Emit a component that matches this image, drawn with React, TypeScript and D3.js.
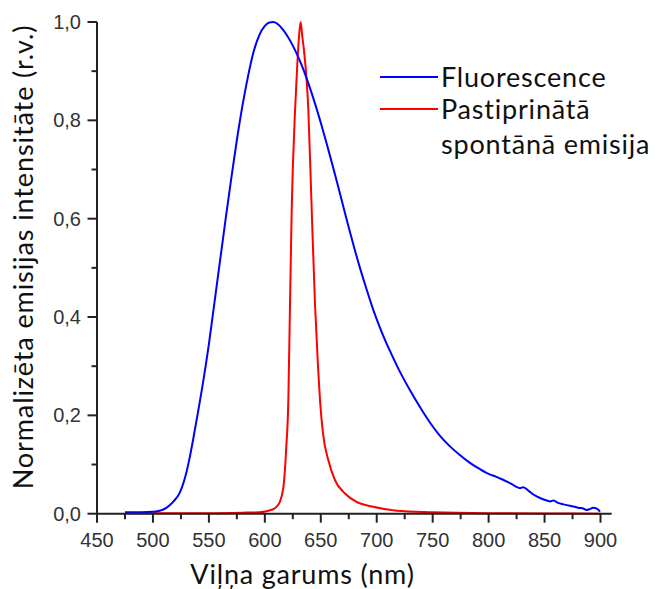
import React from "react";
import * as d3 from "d3";

const fluoWavelength = [475, 490, 500, 506, 512, 518, 524, 530, 533, 536, 540, 545, 550, 555, 560, 565, 570, 575, 580, 585, 590, 595, 600, 604, 607.6, 612, 616, 620, 625, 630, 635, 640, 645, 650, 655, 660, 665, 670, 675, 680, 685, 690, 697, 704, 712, 720, 730, 740, 748, 756, 765, 774, 783, 792, 801, 806, 812, 820, 828, 831, 836, 840, 847, 852, 855, 858, 862, 867, 872.7, 877, 880, 884, 887.6, 890, 893.5, 897, 899.5];
const fluoIntensity = [0.003, 0.003, 0.004, 0.006, 0.012, 0.024, 0.043, 0.085, 0.116, 0.152, 0.203, 0.27, 0.345, 0.43, 0.515, 0.6, 0.682, 0.76, 0.83, 0.89, 0.94, 0.973, 0.992, 0.999, 1.0, 0.995, 0.985, 0.972, 0.952, 0.928, 0.9, 0.868, 0.833, 0.795, 0.755, 0.713, 0.67, 0.626, 0.582, 0.54, 0.5, 0.463, 0.414, 0.372, 0.33, 0.292, 0.25, 0.212, 0.184, 0.16, 0.138, 0.12, 0.104, 0.091, 0.08, 0.076, 0.07, 0.061, 0.052, 0.054, 0.046, 0.039, 0.031, 0.027, 0.025, 0.027, 0.022, 0.019, 0.016, 0.014, 0.012, 0.011, 0.0075, 0.009, 0.012, 0.01, 0.004];

const aseWavelength = [475, 500, 550, 580, 595, 601.5, 606, 609, 612, 614, 617, 619, 621, 622.5, 624, 627, 628.5, 630.5, 632, 633.5, 635, 638.9, 641.9, 644.8, 647.5, 649.3, 652, 656.7, 662.7, 671.6, 682, 697, 718, 750, 800, 850, 900];
const aseIntensity = [0.001, 0.001, 0.001, 0.002, 0.003, 0.005, 0.008, 0.011, 0.018, 0.028, 0.062, 0.129, 0.231, 0.428, 0.617, 0.82, 0.89, 0.97, 1.0, 0.97, 0.942, 0.82, 0.617, 0.428, 0.3, 0.231, 0.163, 0.109, 0.068, 0.041, 0.024, 0.014, 0.006, 0.003, 0.001, 0.0005, 0.0];

const xTicks = [450, 500, 550, 600, 650, 700, 750, 800, 850, 900];
const xMinorTicks = [475, 525, 575, 625, 675, 725, 775, 825, 875];
const yTicks = [0, 0.2, 0.4, 0.6, 0.8, 1.0];
const yMinorTicks = [0.1, 0.3, 0.5, 0.7, 0.9];

const seriesNames = ["Fluorescence", "Pastiprinātā", "spontānā emisija"];
const xTitle = "Viļņa garums (nm)";
const yTitle = "Normalizēta emisijas intensitāte (r.v.)";

const W = 659;
const H = 589;

export default function App() {
  const x = d3.scaleLinear().domain([450, 910]).range([97, 611.7]);
  const y = d3.scaleLinear().domain([0, 1]).range([513.7, 22]);
  const line = d3
    .line<[number, number]>()
    .x((d) => x(d[0]))
    .y((d) => y(d[1]))
    .curve(d3.curveMonotoneX);
  const fluo = line(fluoWavelength.map((w, i) => [w, fluoIntensity[i]]) as [number, number][]);
  const ase = line(aseWavelength.map((w, i) => [w, aseIntensity[i]]) as [number, number][]);
  const fmt = (v: number) => v.toFixed(1).replace(".", ",");
  const axisColor = "#222";
  const labelFont = "'Liberation Sans', Arial, sans-serif";
  const titleFont = "Lato, 'Open Sans', sans-serif";
  return (
    <svg
      width={W}
      height={H}
      style={{ position: "absolute", left: 0, top: 0, background: "#fff" }}
    >
      <rect x={0} y={0} width={W} height={H} fill="#fff" />
      <path d={ase ?? ""} fill="none" stroke="#ff0000" strokeWidth={2} />
      <path d={fluo ?? ""} fill="none" stroke="#0000ff" strokeWidth={2} />
      <line x1={x(450)} x2={x(910)} y1={y(0)} y2={y(0)} stroke={axisColor} strokeWidth={2} />
      <line x1={x(450)} x2={x(450)} y1={y(1)} y2={y(0)} stroke={axisColor} strokeWidth={2} />
      {xTicks.map((t) => (
        <g key={"xt" + t}>
          <line x1={x(t)} x2={x(t)} y1={y(0)} y2={y(0) + 9} stroke={axisColor} strokeWidth={2} />
          <text x={x(t)} y={547} textAnchor="middle" fontFamily={labelFont} fontSize={20} fill="#333">
            {t}
          </text>
        </g>
      ))}
      {xMinorTicks.map((t) => (
        <line key={"xm" + t} x1={x(t)} x2={x(t)} y1={y(0)} y2={y(0) + 5.5} stroke={axisColor} strokeWidth={2} />
      ))}
      {yTicks.map((t) => (
        <g key={"yt" + t}>
          <line x1={x(450) - 9.5} x2={x(450)} y1={y(t)} y2={y(t)} stroke={axisColor} strokeWidth={2} />
          <text x={81} y={y(t) + 7} textAnchor="end" fontFamily={labelFont} fontSize={20} fill="#333">
            {fmt(t)}
          </text>
        </g>
      ))}
      {yMinorTicks.map((t) => (
        <line key={"ym" + t} x1={x(450) - 5.5} x2={x(450)} y1={y(t)} y2={y(t)} stroke={axisColor} strokeWidth={2} />
      ))}
      <text
        x={302.5}
        y={584}
        textAnchor="middle"
        fontFamily={titleFont}
        fontSize={27}
        letterSpacing={0.8}
        fill="#111"
      >
        {xTitle}
      </text>
      <text
        transform="translate(33,257) rotate(-90)"
        textAnchor="middle"
        fontFamily={titleFont}
        fontSize={27}
        letterSpacing={0.9}
        fill="#111"
      >
        {yTitle}
      </text>
      <line x1={380} x2={438} y1={77} y2={77} stroke="#0000ff" strokeWidth={2} />
      <line x1={380} x2={438} y1={109} y2={109} stroke="#ff0000" strokeWidth={2} />
      <text x={441} y={87} fontFamily={titleFont} fontSize={27} letterSpacing={0.8} fill="#111">
        {seriesNames[0]}
      </text>
      <text x={441} y={119} fontFamily={titleFont} fontSize={27} letterSpacing={0.8} fill="#111">
        {seriesNames[1]}
      </text>
      <text x={441} y={154} fontFamily={titleFont} fontSize={27} letterSpacing={0.8} fill="#111">
        {seriesNames[2]}
      </text>
    </svg>
  );
}
